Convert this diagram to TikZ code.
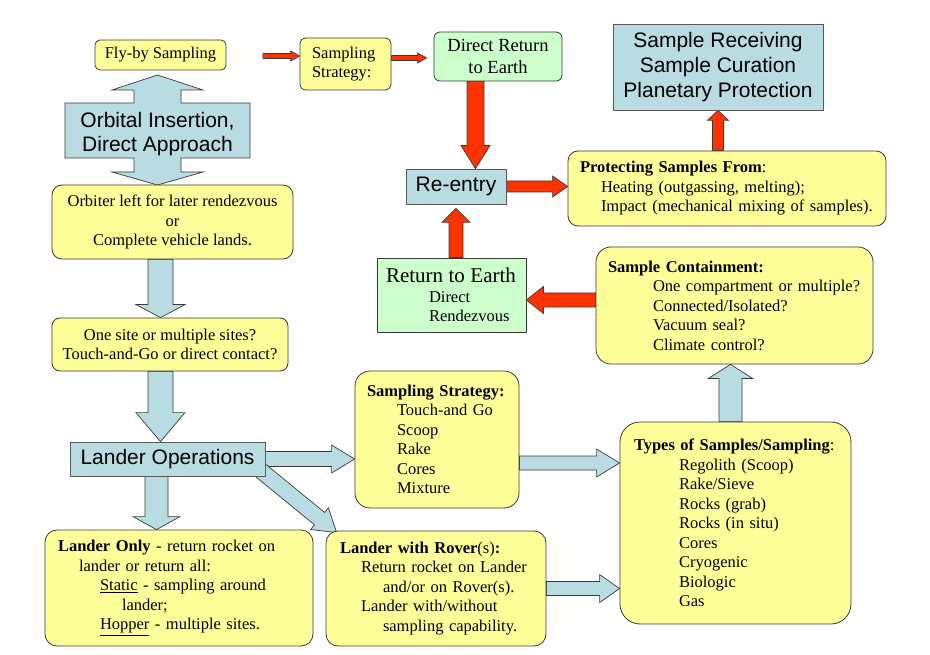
\documentclass[tikz,border=0pt]{standalone}
\usepackage{fontspec}
\setmainfont{Liberation Serif}
\setsansfont{Liberation Sans}
\usepackage{tikz}
\usetikzlibrary{calc}
\usetikzlibrary{backgrounds}
\definecolor{padyellow}{HTML}{FFFF99}
\definecolor{padgreen}{HTML}{CCFFCC}
\definecolor{padblue}{HTML}{B9DCE3}
\definecolor{padred}{HTML}{FF3300}
\definecolor{rim}{HTML}{3A3A3A}

% fat arrow: [style]{from}{to}{half shaft}{half head}{head length}
\newcommand\blockarrow[6][]{%
  \coordinate (ba-s) at (#2);
  \coordinate (ba-e) at (#3);
  \coordinate (ba-h) at ($(ba-e)!#6!(ba-s)$);
  \draw[#1] ($(ba-s)!#4!90:(ba-e)$) -- ($(ba-h)!#4!-90:(ba-s)$)
    -- ($(ba-h)!#5!-90:(ba-s)$) -- (ba-e) -- ($(ba-h)!#5!90:(ba-s)$)
    -- ($(ba-h)!#4!90:(ba-s)$) -- ($(ba-s)!#4!-90:(ba-e)$) -- cycle;}

\begin{document}
\begin{tikzpicture}[x=1pt,y=-1pt,
  note/.style={draw=rim,fill=padyellow,line width=.8pt,rounded corners=#1,
    align=left,inner ysep=0pt,font=\fontsize{16.5}{19.5}\selectfont},
  note/.default=12pt,
  earth/.style={draw=rim,fill=padgreen,line width=.8pt,inner ysep=0pt,
    font=\fontsize{16.5}{19.5}\selectfont},
  stage/.style={draw=rim!85,fill=padblue,line width=.8pt,inner sep=0pt,
    align=center,font=\sffamily\fontsize{21}{25}\selectfont},
  skyarrow/.style={draw=rim,fill=padblue,line width=.7pt,line join=miter},
  redarrow/.style={draw=rim,fill=padred,line width=.7pt,line join=miter}]
  \useasboundingbox (0,0) rectangle (930,655);

  % top row
  \node[note=5pt,align=center,minimum width=131pt,minimum height=30pt,inner xsep=0pt] (flyby) at (160.5,55) {Fly-by Sampling};
  \node[note=6pt,minimum height=52pt,inner xsep=12pt,text width=67pt] (strat) at (345.5,64) {Sampling\\Strategy:};
  \node[earth,rounded corners=6pt,align=center,minimum width=128pt,minimum height=49pt,inner xsep=0pt,
    font=\fontsize{18.5}{22}\selectfont] (direct) at (498,56.5) {Direct Return\\to Earth};
  \node[stage,minimum width=210pt,minimum height=86pt] (receive) at (718,67) {Sample Receiving\\Sample Curation\\Planetary Protection};
  \node[stage,minimum width=100pt,minimum height=35pt] (reentry) at (456,186.5) {Re-entry};
  \node[note=10pt,minimum height=75pt,inner xsep=12pt,text width=294pt] (protect) at (727,188.5)
    {\textbf{Protecting Samples From}:\\
     \hspace*{21pt}Heating (outgassing, melting);\\
     \hspace*{21pt}Impact (mechanical mixing of samples).};

  % left column
  \node[font=\sffamily\fontsize{21}{24}\selectfont,align=center,inner sep=0pt] (orbit) at (157.5,134.5) {Orbital Insertion,\\Direct Approach};
  \node[note=10pt,align=center,minimum width=241pt,minimum height=74pt,inner xsep=0pt] (orbiter) at (172.5,222)
    {Orbiter left for later rendezvous\\or\\Complete vehicle lands.};
  \node[note=8pt,align=center,minimum width=236pt,minimum height=53pt,inner xsep=0pt] (onesite) at (170,344.5)
    {One site or multiple sites?\\Touch-and-Go or direct contact?};
  \node[stage,minimum width=195pt,minimum height=34pt] (landerops) at (167.5,459) {Lander Operations};
  \node[note=12pt,minimum height=116pt,inner xsep=13pt,text width=242pt] (landonly) at (179,588)
    {\textbf{Lander Only} - return rocket on\\
     \hspace*{21pt}lander or return all:\\
     \hspace*{42pt}\underline{Static} - sampling around\\
     \hspace*{64pt}lander;\\
     \hspace*{42pt}\underline{Hopper} - multiple sites.};

  % middle and right
  \node[earth,minimum height=74pt,inner xsep=9pt,text width=131pt,align=left] (retearth) at (451.5,295)
    {{\fontsize{21}{19.5}\selectfont Return to Earth}\\
     \hspace*{43pt}Direct\\
     \hspace*{43pt}Rendezvous};
  \node[note=15pt,minimum height=117pt,inner xsep=12pt,text width=253pt] (contain) at (734.5,305.5)
    {\textbf{Sample Containment:}\\
     \hspace*{45pt}One compartment or multiple?\\
     \hspace*{45pt}Connected/Isolated?\\
     \hspace*{45pt}Vacuum seal?\\
     \hspace*{45pt}Climate control?};
  \node[note=15pt,minimum height=137pt,inner xsep=12pt,text width=140pt] (sstrat) at (437,439.5)
    {\textbf{Sampling Strategy:}\\
     \hspace*{30pt}Touch-and Go\\
     \hspace*{30pt}Scoop\\
     \hspace*{30pt}Rake\\
     \hspace*{30pt}Cores\\
     \hspace*{30pt}Mixture};
  \node[note=12pt,minimum height=115pt,inner xsep=14pt,text width=192pt] (rover) at (436,588.5)
    {\textbf{Lander with Rover}(s)\textbf{:}\\
     \hspace*{21pt}Return rocket on Lander\\
     \hspace*{43pt}and/or on Rover(s).\\
     \hspace*{21pt}Lander with/without\\
     \hspace*{43pt}sampling capability.};
  \node[note=20pt,minimum height=202pt,inner xsep=14pt,text width=203pt] (types) at (735.5,523)
    {\textbf{Types of Samples/Sampling}:\\
     \hspace*{45pt}Regolith (Scoop)\\
     \hspace*{45pt}Rake/Sieve\\
     \hspace*{45pt}Rocks (grab)\\
     \hspace*{45pt}Rocks (in situ)\\
     \hspace*{45pt}Cores\\
     \hspace*{45pt}Cryogenic\\
     \hspace*{45pt}Biologic\\
     \hspace*{45pt}Gas};

  \coordinate (spine) at (160.5,0);
  \coordinate (lspine) at (156.5,0);
  \coordinate (upx) at (730.5,0);
  \coordinate (downx) at (475.5,0);
  \coordinate (backy) at (0,300);
  \coordinate (feed) at (263,56);
  \coordinate (ssout) at ($(sstrat.east)+(0,23.5)$);

  \begin{scope}[on background layer]
    % up-down arrow round the orbit text
    \begin{scope}[shift={($(orbit.center)+(0,-4)$)}]
      \draw[skyarrow] (-23.5,-27.5) -- (-23.5,-40.5) -- (-45.5,-40.5) -- (0,-55.5) -- (45.5,-40.5)
        -- (23.5,-40.5) -- (23.5,-27.5) -- (92.5,-27.5) -- (92.5,27.5) -- (23.5,27.5) -- (23.5,41.5)
        -- (45.5,41.5) -- (0,54.5) -- (-45.5,41.5) -- (-23.5,41.5) -- (-23.5,27.5) -- (-92.5,27.5)
        -- (-92.5,-27.5) -- cycle;
    \end{scope}
    % blue flow
    \blockarrow[skyarrow]{spine |- orbiter.south}{spine |- onesite.north}{12.5pt}{24.5pt}{13pt}
    \blockarrow[skyarrow]{spine |- onesite.south}{spine |- landerops.north}{12.5pt}{24.5pt}{29pt}
    \blockarrow[skyarrow]{lspine |- landerops.south}{lspine |- landonly.north}{11.5pt}{23.5pt}{13pt}
    \blockarrow[skyarrow]{landerops.east}{landerops.east -| sstrat.west}{7.5pt}{14pt}{23pt}
    \blockarrow[skyarrow]{$(landerops.south east)+(-6,-7)$}{$(rover.north west)+(11,2)$}{8pt}{14pt}{22pt}
    \blockarrow[skyarrow]{ssout}{ssout -| types.west}{7pt}{14pt}{23pt}
    \blockarrow[skyarrow]{rover.east}{rover.east -| types.west}{7pt}{14pt}{20pt}
    \blockarrow[skyarrow]{upx |- types.north}{upx |- contain.south}{11.5pt}{22pt}{14pt}
    % red flow
    \blockarrow[redarrow]{feed}{feed -| strat.west}{2.5pt}{5pt}{9pt}
    \blockarrow[redarrow]{$(strat.east)+(0,-6)$}{$(direct.west)+(-7,1.5)$}{2.5pt}{5pt}{9pt}
    \blockarrow[redarrow]{downx |- direct.south}{downx |- reentry.north}{8.5pt}{14.5pt}{23pt}
    \blockarrow[redarrow]{reentry.south |- retearth.north}{$(reentry.south)+(0,4)$}{7pt}{14pt}{14pt}
    \blockarrow[redarrow]{reentry.east}{reentry.east -| protect.west}{5.5pt}{10.5pt}{15pt}
    \blockarrow[redarrow]{receive.south |- protect.north}{receive.south}{5.5pt}{10.5pt}{10pt}
    \blockarrow[redarrow]{backy -| contain.west}{backy -| retearth.east}{7pt}{13.5pt}{17pt}
  \end{scope}
\end{tikzpicture}
\end{document}
